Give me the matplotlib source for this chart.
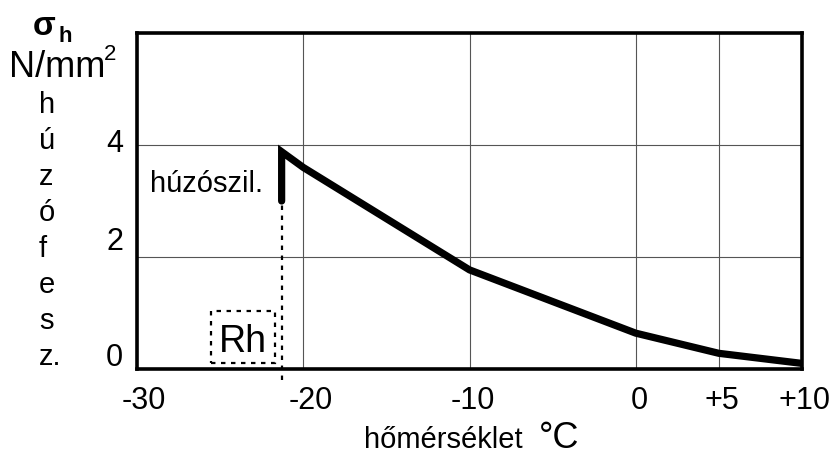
import numpy as np
import matplotlib
matplotlib.use('Agg')
import matplotlib.pyplot as plt
from matplotlib.patches import Rectangle
from matplotlib.transforms import ScaledTranslation

plt.rcParams['font.family'] = ['Liberation Sans', 'DejaVu Sans']

# húzószilárdság - hőmérséklet
temp = [-21.3, -21.3, -20, -10, 0, 5, 10]
sigma = [3.0, 3.88, 3.6, 1.77, 0.64, 0.28, 0.1]

x_ticks = [-30, -20, -10, 0, 5, 10]
x_labels = ['-30', '-20', '-10', '0', '+5', '+10']
y_ticks = [0, 2, 4]
y_labels = ['0', '2', '4']
side_letters = ['h', 'ú', 'z', 'ó', 'f', 'e', 's', 'z.']

rh_temp = -21.3
rh_box = (-25.55, 0.11, 3.85, 0.93)  # x, y, szél., mag.

fig = plt.figure(figsize=(8.34, 4.55), dpi=100)
ax = fig.add_axes([137 / 834, 86 / 455, 665 / 834, 336 / 455])

ax.plot(temp, sigma, color='black', lw=5.2, solid_capstyle='round',
        solid_joinstyle='miter', zorder=5)

# Rh szaggatott vonal + keret
ax.plot([rh_temp, rh_temp], [-0.2, sigma[0]], color='black', lw=1.6,
        ls=(0, (2, 2.5)), clip_on=False, zorder=4)
ax.add_patch(Rectangle(rh_box[:2], rh_box[2], rh_box[3], fill=False,
                       ec='black', lw=1.6, ls=(0, (2, 2.5)), zorder=4))
ax.text(rh_box[0] + rh_box[2] / 2, 0.30, 'Rh', fontsize=27,
        ha='center', va='baseline')
ax.text(-22.4, 3.16, 'húzószil.', fontsize=21, ha='right', va='baseline')

ax.set_xlim(-30, 10)
ax.set_ylim(0, 6)
ax.set_xticks(x_ticks)
ax.set_xticklabels(x_labels, fontsize=22)
ax.set_yticks(y_ticks + [6])
ax.set_yticklabels(y_labels + [''], fontsize=22)
ax.tick_params(axis='both', length=0)
ax.tick_params(axis='x', pad=12)
ax.tick_params(axis='y', pad=10)
ax.grid(True, color='#555555', lw=0.8)
for s in ax.spines.values():
    s.set_linewidth(2.6)

for lab, dx in zip(ax.get_xticklabels(), [7, 8, 3, 4, 3, 2]):
    lab.set_transform(lab.get_transform() + ScaledTranslation(dx / 100, 0, fig.dpi_scale_trans))
for lab, dy in zip(ax.get_yticklabels(), [15, 18, 4, 0]):
    lab.set_transform(lab.get_transform() + ScaledTranslation(0, dy / 100, fig.dpi_scale_trans))

# bal oldali felirat
fig.text(33 / 834, 1 - 35 / 455, 'σ', fontsize=24, fontweight='bold', va='baseline')
fig.text(59 / 834, 1 - 42 / 455, 'h', fontsize=16, fontweight='bold', va='baseline')
fig.text(9 / 834, 1 - 77 / 455, 'N/mm', fontsize=26, va='baseline')
fig.text(104 / 834, 1 - 60 / 455, '2', fontsize=16, va='baseline')
for i, ch in enumerate(side_letters):
    fig.text(39 / 834, 1 - (113 + 36 * i) / 455, ch, fontsize=21, ha='left', va='baseline')

# x tengely felirat
fig.text(443 / 834, 1 - 448 / 455, 'hőmérséklet', fontsize=21, ha='center', va='baseline')
fig.text(539 / 834, 1 - 448 / 455, '°C', fontsize=26, ha='left', va='baseline')

fig.savefig('out.png', dpi=100)
